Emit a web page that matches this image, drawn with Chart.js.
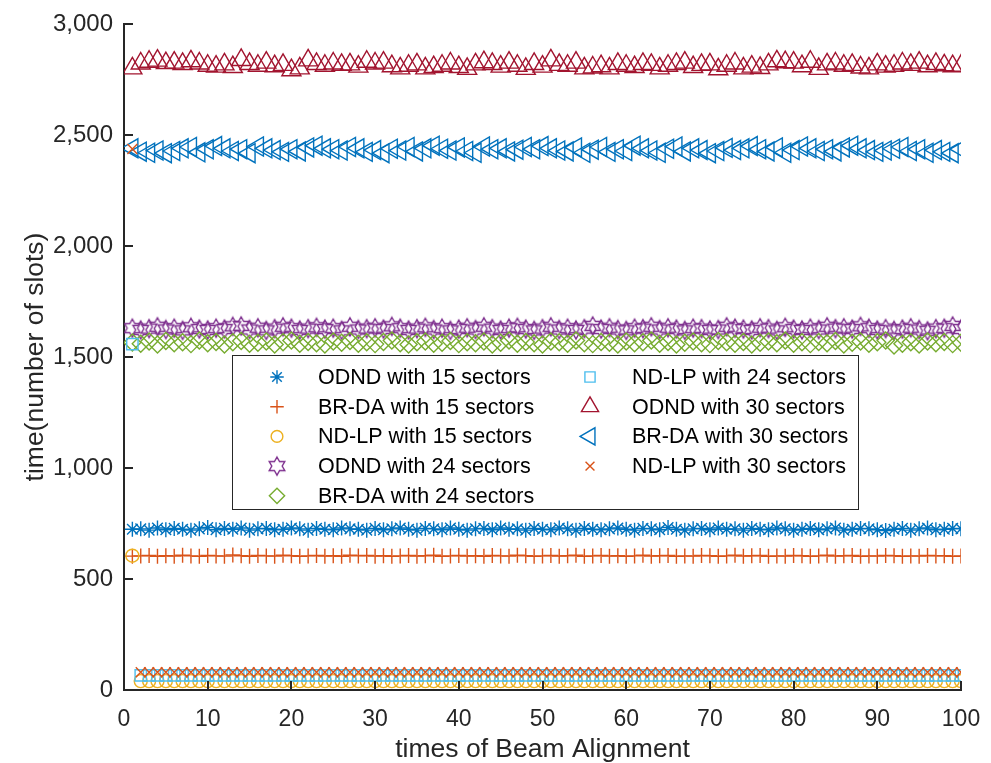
<!DOCTYPE html>
<html>
<head>
<meta charset="utf-8">
<script src="https://cdn.jsdelivr.net/npm/chart.js@4/dist/chart.umd.min.js"></script>
<style>
  html, body { margin: 0; padding: 0; background: #fff; }
  #wrap { width: 991px; height: 763px; }
</style>
</head>
<body>
<div id="wrap"><canvas id="baChart" width="991" height="763"></canvas></div>
<script>
// times of Beam Alignment
const trials = [
  1, 2, 3, 4, 5, 6, 7, 8, 9, 10,
  11, 12, 13, 14, 15, 16, 17, 18, 19, 20,
  21, 22, 23, 24, 25, 26, 27, 28, 29, 30,
  31, 32, 33, 34, 35, 36, 37, 38, 39, 40,
  41, 42, 43, 44, 45, 46, 47, 48, 49, 50,
  51, 52, 53, 54, 55, 56, 57, 58, 59, 60,
  61, 62, 63, 64, 65, 66, 67, 68, 69, 70,
  71, 72, 73, 74, 75, 76, 77, 78, 79, 80,
  81, 82, 83, 84, 85, 86, 87, 88, 89, 90,
  91, 92, 93, 94, 95, 96, 97, 98, 99, 100
];

const odnd15 = [
  724, 726, 720, 730, 722, 728, 724, 720, 726, 732,
  722, 728, 724, 730, 720, 726, 728, 722, 724, 730,
  726, 720, 728, 724, 722, 730, 726, 724, 720, 728,
  722, 726, 730, 724, 720, 728, 726, 722, 730, 724,
  720, 726, 728, 722, 730, 724, 726, 720, 728, 724,
  722, 730, 726, 720, 728, 724, 722, 726, 730, 724,
  720, 728, 726, 722, 732, 724, 720, 726, 728, 722,
  730, 724, 726, 720, 728, 724, 722, 730, 726, 720,
  724, 728, 722, 726, 730, 720, 724, 728, 726, 722,
  718, 724, 728, 720, 726, 730, 722, 724, 728, 726
];
const brda15 = [
  603, 604, 606, 602, 605, 603, 607, 604, 602, 606,
  604, 603, 608, 605, 602, 606, 604, 603, 607, 605,
  602, 604, 606, 603, 605, 602, 607, 604, 606, 603,
  605, 602, 604, 606, 603, 605, 607, 602, 604, 606,
  603, 605, 602, 606, 604, 603, 607, 605, 602, 604,
  606, 603, 605, 607, 602, 604, 606, 603, 605, 602,
  604, 607, 603, 605, 606, 602, 604, 603, 606, 605,
  602, 604, 607, 603, 605, 606, 602, 604, 603, 606,
  605, 602, 604, 607, 603, 605, 606, 602, 604, 603,
  606, 605, 602, 604, 603, 606, 604, 605, 602, 604
];
const ndlp15 = [
  605, 40, 40, 40, 40, 40, 40, 40, 40, 40,
  40, 40, 40, 40, 40, 40, 40, 40, 40, 40,
  40, 40, 40, 40, 40, 40, 40, 40, 40, 40,
  40, 40, 40, 40, 40, 40, 40, 40, 40, 40,
  40, 40, 40, 40, 40, 40, 40, 40, 40, 40,
  40, 40, 40, 40, 40, 40, 40, 40, 40, 40,
  40, 40, 40, 40, 40, 40, 40, 40, 40, 40,
  40, 40, 40, 40, 40, 40, 40, 40, 40, 40,
  40, 40, 40, 40, 40, 40, 40, 40, 40, 40,
  40, 40, 40, 40, 40, 40, 40, 40, 40, 40
];
const odnd24 = [
  1630, 1622, 1628, 1636, 1624, 1630, 1620, 1634, 1626, 1622,
  1630, 1626, 1638, 1640, 1624, 1632, 1620, 1628, 1636, 1630,
  1622, 1628, 1634, 1626, 1630, 1620, 1636, 1624, 1628, 1632,
  1626, 1638, 1630, 1622, 1628, 1634, 1624, 1630, 1620, 1626,
  1632, 1624, 1636, 1628, 1622, 1630, 1634, 1626, 1620, 1628,
  1636, 1624, 1630, 1622, 1628, 1640, 1626, 1632, 1624, 1620,
  1630, 1628, 1636, 1624, 1632, 1626, 1620, 1630, 1628, 1622,
  1624, 1636, 1630, 1626, 1622, 1632, 1628, 1620, 1634, 1626,
  1622, 1630, 1624, 1636, 1628, 1632, 1626, 1638, 1630, 1622,
  1628, 1620, 1626, 1632, 1624, 1618, 1628, 1630, 1640, 1626
];
const brda24 = [
  1565, 1560, 1570, 1556, 1572, 1562, 1566, 1558, 1574, 1562,
  1568, 1556, 1566, 1572, 1560, 1564, 1570, 1556, 1566, 1574,
  1560, 1568, 1562, 1556, 1570, 1564, 1572, 1560, 1566, 1558,
  1568, 1574, 1562, 1556, 1566, 1570, 1560, 1564, 1572, 1558,
  1566, 1562, 1570, 1556, 1564, 1574, 1560, 1568, 1562, 1556,
  1570, 1566, 1560, 1574, 1562, 1558, 1568, 1564, 1556, 1570,
  1562, 1566, 1574, 1560, 1568, 1556, 1564, 1570, 1562, 1558,
  1572, 1566, 1560, 1568, 1556, 1564, 1570, 1562, 1574, 1560,
  1566, 1558, 1568, 1562, 1572, 1556, 1564, 1570, 1560, 1566,
  1574, 1552, 1560, 1566, 1556, 1570, 1562, 1568, 1558, 1564
];
const ndlp24 = [
  1558, 66, 66, 66, 66, 66, 66, 66, 66, 66,
  66, 66, 66, 66, 66, 66, 66, 66, 66, 66,
  66, 66, 66, 66, 66, 66, 66, 66, 66, 66,
  66, 66, 66, 66, 66, 66, 66, 66, 66, 66,
  66, 66, 66, 66, 66, 66, 66, 66, 66, 66,
  66, 66, 66, 66, 66, 66, 66, 66, 66, 66,
  66, 66, 66, 66, 66, 66, 66, 66, 66, 66,
  66, 66, 66, 66, 66, 66, 66, 66, 66, 66,
  66, 66, 66, 66, 66, 66, 66, 66, 66, 66,
  66, 66, 66, 66, 66, 66, 66, 66, 66, 66
];
const odnd30 = [
  2800, 2822, 2830, 2835, 2824, 2826, 2820, 2832, 2822, 2812,
  2808, 2818, 2806, 2838, 2820, 2812, 2826, 2810, 2816, 2792,
  2800, 2836, 2820, 2812, 2822, 2816, 2818, 2808, 2830, 2822,
  2826, 2810, 2800, 2812, 2818, 2800, 2806, 2812, 2822, 2806,
  2798, 2818, 2828, 2820, 2808, 2826, 2812, 2798, 2820, 2808,
  2836, 2816, 2812, 2826, 2800, 2804, 2810, 2800, 2820, 2812,
  2806, 2820, 2816, 2800, 2812, 2820, 2826, 2806, 2816, 2818,
  2796, 2812, 2822, 2800, 2808, 2802, 2818, 2832, 2828, 2826,
  2810, 2830, 2798, 2818, 2822, 2812, 2816, 2804, 2800, 2818,
  2808, 2812, 2822, 2816, 2826, 2810, 2820, 2814, 2810, 2812
];
const brda30 = [
  2440, 2425, 2420, 2430, 2418, 2428, 2440, 2446, 2422, 2436,
  2450, 2440, 2428, 2436, 2418, 2448, 2440, 2432, 2424, 2436,
  2426, 2444, 2452, 2440, 2436, 2430, 2446, 2440, 2424, 2432,
  2418, 2438, 2430, 2446, 2426, 2440, 2452, 2438, 2430, 2444,
  2428, 2420, 2448, 2436, 2440, 2426, 2434, 2446, 2436, 2450,
  2440, 2430, 2426, 2444, 2420, 2434, 2446, 2424, 2436, 2428,
  2452, 2440, 2430, 2420, 2438, 2448, 2426, 2440, 2432, 2418,
  2428, 2442, 2432, 2440, 2450, 2436, 2426, 2444, 2420, 2432,
  2448, 2440, 2428, 2436, 2426, 2444, 2452, 2440, 2432, 2424,
  2430, 2438, 2446, 2428, 2436, 2420, 2432, 2424, 2418, 2436
];
const ndlp30 = [
  2437, 80, 80, 80, 80, 80, 80, 80, 80, 80,
  80, 80, 80, 80, 80, 80, 80, 80, 80, 80,
  80, 80, 80, 80, 80, 80, 80, 80, 80, 80,
  80, 80, 80, 80, 80, 80, 80, 80, 80, 80,
  80, 80, 80, 80, 80, 80, 80, 80, 80, 80,
  80, 80, 80, 80, 80, 80, 80, 80, 80, 80,
  80, 80, 80, 80, 80, 80, 80, 80, 80, 80,
  80, 80, 80, 80, 80, 80, 80, 80, 80, 80,
  80, 80, 80, 80, 80, 80, 80, 80, 80, 80,
  80, 80, 80, 80, 80, 80, 80, 80, 80, 80
];

const seriesNames = [
  'ODND with 15 sectors', 'BR-DA with 15 sectors', 'ND-LP with 15 sectors',
  'ODND with 24 sectors', 'BR-DA with 24 sectors', 'ND-LP with 24 sectors',
  'ODND with 30 sectors', 'BR-DA with 30 sectors', 'ND-LP with 30 sectors'
];
const seriesValues = [odnd15, brda15, ndlp15, odnd24, brda24, ndlp24, odnd30, brda30, ndlp30];
const yTicks = [0, 500, 1000, 1500, 2000, 2500, 3000];
const xTicks = [0, 10, 20, 30, 40, 50, 60, 70, 80, 90, 100];

// matlab default colour order
const colors = ['#0072BD', '#D95319', '#EDB120', '#7E2F8E', '#77AC30', '#4DBEEE', '#A2142F', '#0072BD', '#D95319'];

function makeHexagram(color, R) {
  const c = document.createElement('canvas');
  const s = Math.ceil(2 * R + 4);
  c.width = s; c.height = s;
  const g = c.getContext('2d');
  g.strokeStyle = color;
  g.lineWidth = 1.4;
  g.beginPath();
  for (let k = 0; k < 12; k++) {
    const a = -Math.PI / 2 + k * Math.PI / 6;
    const r = k % 2 ? R / Math.sqrt(3) : R;
    g.lineTo(s / 2 + r * Math.cos(a), s / 2 + r * Math.sin(a));
  }
  g.closePath();
  g.stroke();
  return c;
}

const markers = [
  { style: 'star', radius: 7.5, rotation: 0 },
  { style: 'cross', radius: 7.5, rotation: 0 },
  { style: 'circle', radius: 6.5, rotation: 0 },
  { style: makeHexagram(colors[3], 9), radius: 9, rotation: 0 },
  { style: 'rectRot', radius: 8.5, rotation: 0 },
  { style: 'rect', radius: 8, rotation: 0 },
  { style: 'triangle', radius: 11, rotation: 0 },
  { style: 'triangle', radius: 11, rotation: -90 },
  { style: 'crossRot', radius: 7, rotation: 0 }
];

const datasets = seriesNames.map((name, i) => ({
  label: name,
  data: seriesValues[i].map((v, j) => ({ x: trials[j], y: v })),
  showLine: false,
  borderColor: colors[i],
  backgroundColor: 'rgba(0,0,0,0)',
  pointBorderColor: colors[i],
  pointBackgroundColor: 'rgba(0,0,0,0)',
  pointBorderWidth: 1.4,
  pointStyle: markers[i].style,
  pointRadius: markers[i].radius,
  pointRotation: markers[i].rotation,
  order: seriesNames.length - 1 - i
}));

const fontFamily = '"Liberation Sans", Arial, Helvetica, sans-serif';

// inward tick marks like matlab
const innerTicks = {
  id: 'innerTicks',
  afterDatasetsDraw(chart) {
    const { ctx, chartArea, scales } = chart;
    ctx.save();
    ctx.strokeStyle = '#262626';
    ctx.lineWidth = 2;
    ctx.beginPath();
    yTicks.forEach(v => {
      const y = Math.round(scales.y.getPixelForValue(v));
      ctx.moveTo(chartArea.left, y);
      ctx.lineTo(chartArea.left + 9, y);
    });
    xTicks.forEach(v => {
      const x = Math.round(scales.x.getPixelForValue(v));
      ctx.moveTo(x, chartArea.bottom);
      ctx.lineTo(x, chartArea.bottom - 9);
    });
    ctx.stroke();
    ctx.restore();
  }
};

const boxLegend = {
  id: 'boxLegend',
  afterDraw(chart) {
    const ctx = chart.ctx;
    const box = { x: 232, y: 355, w: 626, h: 154 };
    ctx.save();
    ctx.fillStyle = '#ffffff';
    ctx.fillRect(box.x, box.y, box.w, box.h);
    ctx.strokeStyle = '#262626';
    ctx.lineWidth = 1;
    ctx.strokeRect(box.x + 0.5, box.y + 0.5, box.w, box.h);
    const cols = [{ mx: 277, tx: 318 }, { mx: 590, tx: 632 }];
    ctx.font = '21.5px ' + fontFamily;
    ctx.textBaseline = 'middle';
    ctx.textAlign = 'left';
    seriesNames.forEach((name, i) => {
      const col = i < 5 ? cols[0] : cols[1];
      const row = i < 5 ? i : i - 5;
      const y = 377 + row * 29.7;
      ctx.strokeStyle = colors[i];
      ctx.fillStyle = 'rgba(0,0,0,0)';
      ctx.lineWidth = 1.4;
      Chart.helpers.drawPoint(ctx, {
        pointStyle: markers[i].style,
        radius: markers[i].radius * 0.9,
        rotation: markers[i].rotation,
        borderWidth: 1.4
      }, col.mx, y);
      ctx.fillStyle = '#000000';
      ctx.fillText(name, col.tx, y + 1);
    });
    ctx.restore();
  }
};

new Chart(document.getElementById('baChart').getContext('2d'), {
  type: 'scatter',
  data: { datasets: datasets },
  options: {
    responsive: false,
    animation: false,
    layout: { padding: { left: 0, right: 30, top: 24, bottom: 0 } },
    plugins: {
      legend: { display: false },
      tooltip: { enabled: false }
    },
    scales: {
      x: {
        type: 'linear',
        min: 0,
        max: 100,
        afterFit(scale) {
          scale.height = 73;
          scale.paddingLeft = 0;
          scale.paddingRight = 0;
        },
        afterBuildTicks(scale) { scale.ticks = xTicks.map(v => ({ value: v })); },
        ticks: { color: '#262626', padding: 16, font: { size: 23, family: fontFamily } },
        grid: { display: false, drawTicks: false },
        border: { color: '#262626', width: 2 },
        title: {
          display: true,
          text: 'times of Beam Alignment',
          color: '#262626',
          padding: { top: 0, bottom: -3 },
          font: { size: 26.5, family: fontFamily }
        }
      },
      y: {
        min: 0,
        max: 3000,
        afterFit(scale) {
          scale.width = 124;
          scale.paddingTop = 0;
          scale.paddingBottom = 0;
        },
        afterBuildTicks(scale) { scale.ticks = yTicks.map(v => ({ value: v })); },
        ticks: {
          color: '#262626',
          padding: 11,
          font: { size: 24, family: fontFamily },
          callback: v => v.toLocaleString('en-US')
        },
        grid: { display: false, drawTicks: false },
        border: { color: '#262626', width: 2 },
        title: {
          display: true,
          text: 'time(number of slots)',
          color: '#262626',
          padding: { top: 20, bottom: 0 },
          font: { size: 26.5, family: fontFamily }
        }
      }
    }
  },
  plugins: [innerTicks, boxLegend]
});
</script>
</body>
</html>
